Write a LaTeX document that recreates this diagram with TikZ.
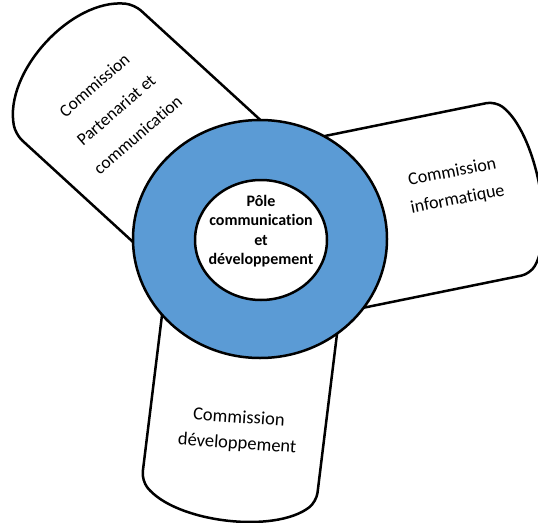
\documentclass[tikz,border=0pt]{standalone}
\usepackage{fontspec}
\setmainfont{Carlito}[Ligatures=NoCommon]
\usepackage{xcolor}
\definecolor{anneau}{RGB}{91,155,213}

\begin{document}
\begin{tikzpicture}[x=1pt,y=1pt,
  petale/.style={fill=white, draw=black, line width=2.5pt, rounded corners=9pt},
  bord/.style={draw=black, line width=2.5pt},
  texte/.style={align=center, inner sep=0pt}]

\useasboundingbox (0,0) rectangle (538,-522);

% Pétales en forme de cylindre
\foreach \ang/\lng/\bos in {137.5/251/38, 11.5/258/25, 263/254/28} {
  \draw[petale, shift={(260,-239)}, rotate=\ang]
    (0,-88) -- (\lng,-88)
    .. controls ({\lng+1.333*\bos},-50) and ({\lng+1.333*\bos},50) .. (\lng,88)
    -- (0,88) -- cycle;
}

% Anneau central
\draw[bord, fill=anneau] (260,-239) ellipse [x radius=127, y radius=119];
\draw[bord, fill=white] (261,-240) ellipse [x radius=66, y radius=60];

% Textes
\node[texte, font=\bfseries\fontsize{16}{19.5}\selectfont] (pole) at (261,-231)
  {Pôle\\communication\\et\\développement};
\node[texte, rotate=41, font=\fontsize{17.5}{33}\selectfont] (partenariat) at (116,-110)
  {Commission\\Partenariat et\\communication};
\node[texte, rotate=11, font=\fontsize{18}{28}\selectfont] (informatique) at (455,-186)
  {Commission\\informatique};
\node[texte, rotate=-4, font=\fontsize{18.5}{26}\selectfont] (developpement) at (238,-431)
  {Commission\\développement};

\end{tikzpicture}
\end{document}
